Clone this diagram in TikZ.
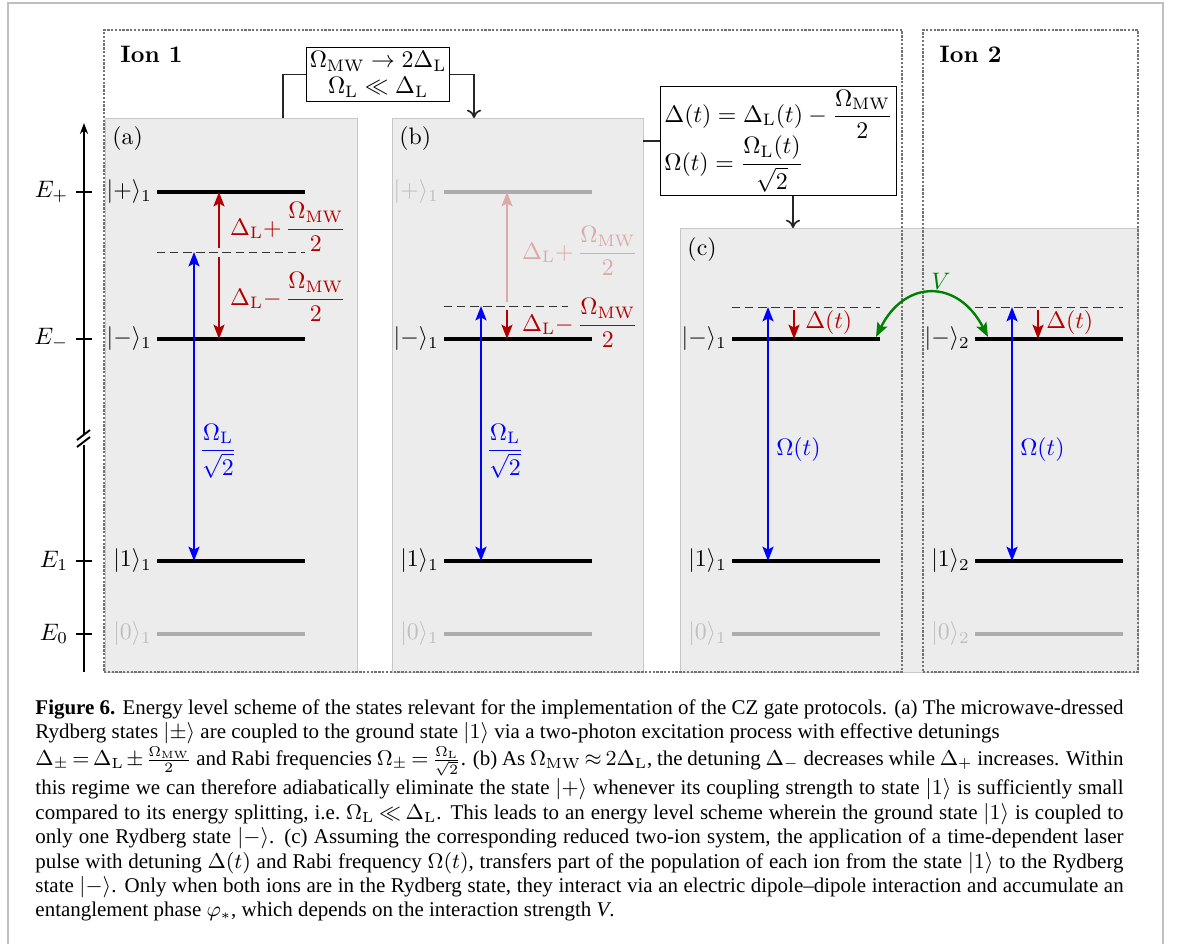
\documentclass[tikz,border=0pt]{standalone}
\usepackage{amsmath}
\usepackage{fontspec}
\newfontfamily\capfont[Ligatures=TeX]{Liberation Serif}
\usepackage{xcolor}
\definecolor{lvred}{RGB}{178,0,0}
\definecolor{lvredfade}{RGB}{220,168,168}
\definecolor{lvblue}{RGB}{0,0,255}
\definecolor{lvgreen}{RGB}{0,128,0}
\definecolor{lvgray}{RGB}{172,172,172}
\definecolor{lvgraytxt}{RGB}{190,190,190}
\definecolor{panelfill}{RGB}{236,236,236}
\usepackage{tikz}
\usetikzlibrary{arrows.meta, positioning, fit, calc}

\begin{document}
\begin{tikzpicture}[
  x=0.42pt, y=-0.42pt,
  panel/.style={draw=black!22, fill=panelfill, inner sep=0pt},
  ionbox/.style={draw=black!55, line width=0.45pt, dash pattern=on 1pt off 0.6pt, inner sep=0pt},
  formbox/.style={draw, thin, fill=white, inner sep=1.5pt, align=center},
  conn/.style={line width=0.7pt, color=black!85},
  contip/.style={-{To[length=3.5pt, width=6pt]}},
  lvl/.style={line width=1.3pt},
  lvlgray/.style={line width=1.3pt, color=lvgray},
  virt/.style={thin, color=black!80, dash pattern=on 3.5pt off 2pt},
  axisl/.style={line width=0.8pt},
  rabi/.style={line width=1pt, color=lvblue,
               {Stealth[length=6pt, width=4.6pt, inset=1.2pt]}-{Stealth[length=6pt, width=4.6pt, inset=1.2pt]}},
  detun/.style={line width=1pt, color=lvred, -{Stealth[length=6pt, width=4.6pt, inset=1.2pt]}},
  coupl/.style={line width=1pt, color=lvgreen,
               {Stealth[length=6pt, width=4.6pt, inset=1.2pt]}-{Stealth[length=6pt, width=4.6pt, inset=1.2pt]}},
  statelbl/.style={anchor=east, inner sep=2pt},
  lbl/.style={anchor=west, inner sep=2pt},
  tag/.style={anchor=west, inner sep=0pt},
  capnode/.style={anchor=north west, text width=457pt, align=justify, inner sep=0pt,
                  font={\capfont\fontsize{8.8}{10.25}\selectfont
                        \thickmuskip=3mu plus 3mu\medmuskip=2mu plus 2mu}}
]
  \useasboundingbox (0,0) rectangle (1181,944);
  % page frame
  \draw[black!25, line width=0.6pt] (8,944) |- (1163,3) -- (1163,944);

  % panels
  \node[panel, fit={(105,118) (357,672)}] (pa) {};
  \node[panel, fit={(392,118) (643,672)}] (pb) {};
  \node[panel, fit={(680,228) (1138,672)}] (pc) {};
  \node[tag] (pa-l) at (112,139) {(a)};
  \node[tag] (pb-l) at (399,139) {(b)};
  \node[tag] (pc-l) at (687,250) {(c)};

  % ions
  \node[ionbox, fit={(104,30) (902,672)}] (ion1) {};
  \node[ionbox, fit={(923,30) (1138,672)}] (ion2) {};
  \node[tag, font=\bfseries] (t1) at (120,54) {Ion 1};
  \node[tag, font=\bfseries] (t2) at (939,54) {Ion 2};

  % conditions
  \node[formbox] (f1) at (378,74.5)
    {$\Omega_\mathrm{MW}\to 2\Delta_\mathrm{L}$\\[-1pt] $\Omega_\mathrm{L}\ll\Delta_\mathrm{L}$};
  \node[formbox, align=left] (f2) at (778.5,141)
    {$\Delta(t)=\Delta_\mathrm{L}(t)-\dfrac{\Omega_\mathrm{MW}}{2}$\\[-2pt]
     $\Omega(t)=\dfrac{\Omega_\mathrm{L}(t)}{\sqrt{2}}$};
  \coordinate (pa-in) at (283,118);
  \coordinate (pb-in) at (474,118);
  \coordinate (pc-in) at (793,228);
  \draw[conn] (f1.west) -| (pa-in);
  \draw[conn, contip] (f1.east) -| (pb-in);
  \draw[conn] (f2.west -| pb.east) -- (f2.west);
  \draw[conn, contip] (f2.south -| pc-in) -- (pc-in);

  % energy axis
  \coordinate (ax-lo) at (84,672);
  \coordinate (ax-hi) at (84,123);
  \draw[axisl] (ax-lo) -- (84,445);
  \draw[axisl, -{Stealth[length=4.6pt, width=3.4pt]}] (84,435) -- (ax-hi);
  \draw[axisl] (77,440) -- (90,430);
  \draw[axisl] (77,447) -- (90,437);
  \foreach \y/\e [count=\i] in {192/+, 339/-, 561/1, 634/0} {
    \draw[axisl] (76,\y) -- (92,\y);
    \node[anchor=east, inner sep=1pt] (en\i) at (71,\y) {$E_{\e}$};
  }

  % levels shared by all panels
  \foreach \xl/\id/\k in {157/a/1, 444/b/1, 732/c/1, 975/d/2} {
    \draw[lvl] (\xl,339) coordinate (\id-m) -- +(148,0);
    \draw[lvl] (\xl,561) coordinate (\id-g1) -- +(148,0);
    \draw[lvlgray] (\xl,634) coordinate (\id-g0) -- +(148,0);
    \node[statelbl] (\id-lm) at (\id-m) {$|{-}\rangle_\k$};
    \node[statelbl] (\id-l1) at (\id-g1) {$|1\rangle_\k$};
    \node[statelbl, text=lvgraytxt] (\id-l0) at (\id-g0) {$|0\rangle_\k$};
  }
  \draw[lvl] (157,192) coordinate (a-p) -- +(148,0);
  \node[statelbl] (a-lp) at (a-p) {$|{+}\rangle_1$};
  \draw[lvlgray] (444,192) coordinate (b-p) -- +(148,0);
  \node[statelbl, text=lvgraytxt] (b-lp) at (b-p) {$|{+}\rangle_1$};

  % virtual levels
  \draw[virt] (157,252) coordinate (a-v) -- +(148,0);
  \draw[virt] (444,306) coordinate (b-v) -- +(124,0);
  \draw[virt] (732,307) coordinate (c-v) -- +(148,0);
  \draw[virt] (975,307) coordinate (d-v) -- +(148,0);

  % (a)
  \draw[rabi] ($(a-v)+(37,0)$) -- ($(a-g1)+(37,0)$);
  \draw[detun] ($(a-v)+(62,-4)$) -- ($(a-p)+(62,0)$);
  \draw[detun] ($(a-v)+(62,5)$) -- ($(a-m)+(62,0)$);
  \node[lbl, text=lvred] (a-dp) at (225,227) {$\Delta_\mathrm{L}{+}\,\dfrac{\Omega_\mathrm{MW}}{2}$};
  \node[lbl, text=lvred] (a-dm) at (225,297) {$\Delta_\mathrm{L}{-}\,\dfrac{\Omega_\mathrm{MW}}{2}$};
  \node[lbl, text=lvblue] (a-om) at (194,451) {$\dfrac{\Omega_\mathrm{L}}{\sqrt{2}}$};

  % (b)
  \draw[rabi] ($(b-v)+(37,0)$) -- ($(b-g1)+(37,0)$);
  \draw[detun, color=lvredfade] ($(b-v)+(63,-4)$) -- ($(b-p)+(63,0)$);
  \draw[detun] ($(b-v)+(63,4)$) -- ($(b-m)+(63,0)$);
  \node[lbl, text=lvredfade] (b-dp) at (517,251) {$\Delta_\mathrm{L}{+}\,\dfrac{\Omega_\mathrm{MW}}{2}$};
  \node[lbl, text=lvred] (b-dm) at (517,323) {$\Delta_\mathrm{L}{-}\,\dfrac{\Omega_\mathrm{MW}}{2}$};
  \node[lbl, text=lvblue] (b-om) at (481,451) {$\dfrac{\Omega_\mathrm{L}}{\sqrt{2}}$};

  % (c) ion 1 and ion 2
  \draw[rabi] ($(c-v)+(36,0)$) -- ($(c-g1)+(36,0)$);
  \draw[detun] ($(c-v)+(62,3)$) -- ($(c-m)+(62,0)$);
  \node[lbl, text=lvred] (c-dt) at (800,323) {$\Delta(t)$};
  \node[lbl, text=lvblue] (c-om) at (771,450) {$\Omega(t)$};
  \draw[rabi] ($(d-v)+(37,0)$) -- ($(d-g1)+(37,0)$);
  \draw[detun] ($(d-v)+(63,3)$) -- ($(d-m)+(63,0)$);
  \node[lbl, text=lvred] (d-dt) at (1041,323) {$\Delta(t)$};
  \node[lbl, text=lvblue] (d-om) at (1015,450) {$\Omega(t)$};

  % interaction
  \coordinate (v-l) at (876,337);
  \coordinate (v-r) at (988,337);
  \draw[coupl] (v-l) .. controls (905,279) and (958,279) .. (v-r);
  \node[inner sep=0pt, text=lvgreen] (v-lab) at (941,281) {$V$};

  % caption
  \node[capnode] (cap) at (35,699) {\textbf{Figure 6.} Energy level scheme of the states relevant for the implementation of the CZ gate protocols. (a) The microwave-dressed\linebreak
  Rydberg states $|\pm\rangle$ are coupled to the ground state $|1\rangle$ via a two-photon excitation process with effective detunings\newline
  $\Delta_\pm=\Delta_\mathrm{L}\pm\frac{\Omega_\mathrm{MW}}{2}$ and Rabi frequencies $\Omega_\pm=\frac{\Omega_\mathrm{L}}{\sqrt{2}}$. (b) As $\Omega_\mathrm{MW}\approx2\Delta_\mathrm{L}$, the detuning $\Delta_-$ decreases while $\Delta_+$ increases. Within\linebreak
  this regime we can therefore adiabatically eliminate the state $|{+}\rangle$ whenever its coupling strength to state $|1\rangle$ is sufficiently small\linebreak
  compared to its energy splitting, i.e.\ $\Omega_\mathrm{L}\ll\Delta_\mathrm{L}$. This leads to an energy level scheme wherein the ground state $|1\rangle$ is coupled to\linebreak
  only one Rydberg state $|{-}\rangle$. (c) Assuming the corresponding reduced two-ion system, the application of a time-dependent laser\linebreak
  pulse with detuning $\Delta(t)$ and Rabi frequency $\Omega(t)$, transfers part of the population of each ion from the state $|1\rangle$ to the Rydberg\linebreak
  state $|{-}\rangle$. Only when both ions are in the Rydberg state, they interact via an electric dipole\textendash dipole interaction and accumulate an\linebreak
  entanglement phase $\varphi_*$, which depends on the interaction strength \textit{V}.\hspace*{\fill}};
\end{tikzpicture}
\end{document}
